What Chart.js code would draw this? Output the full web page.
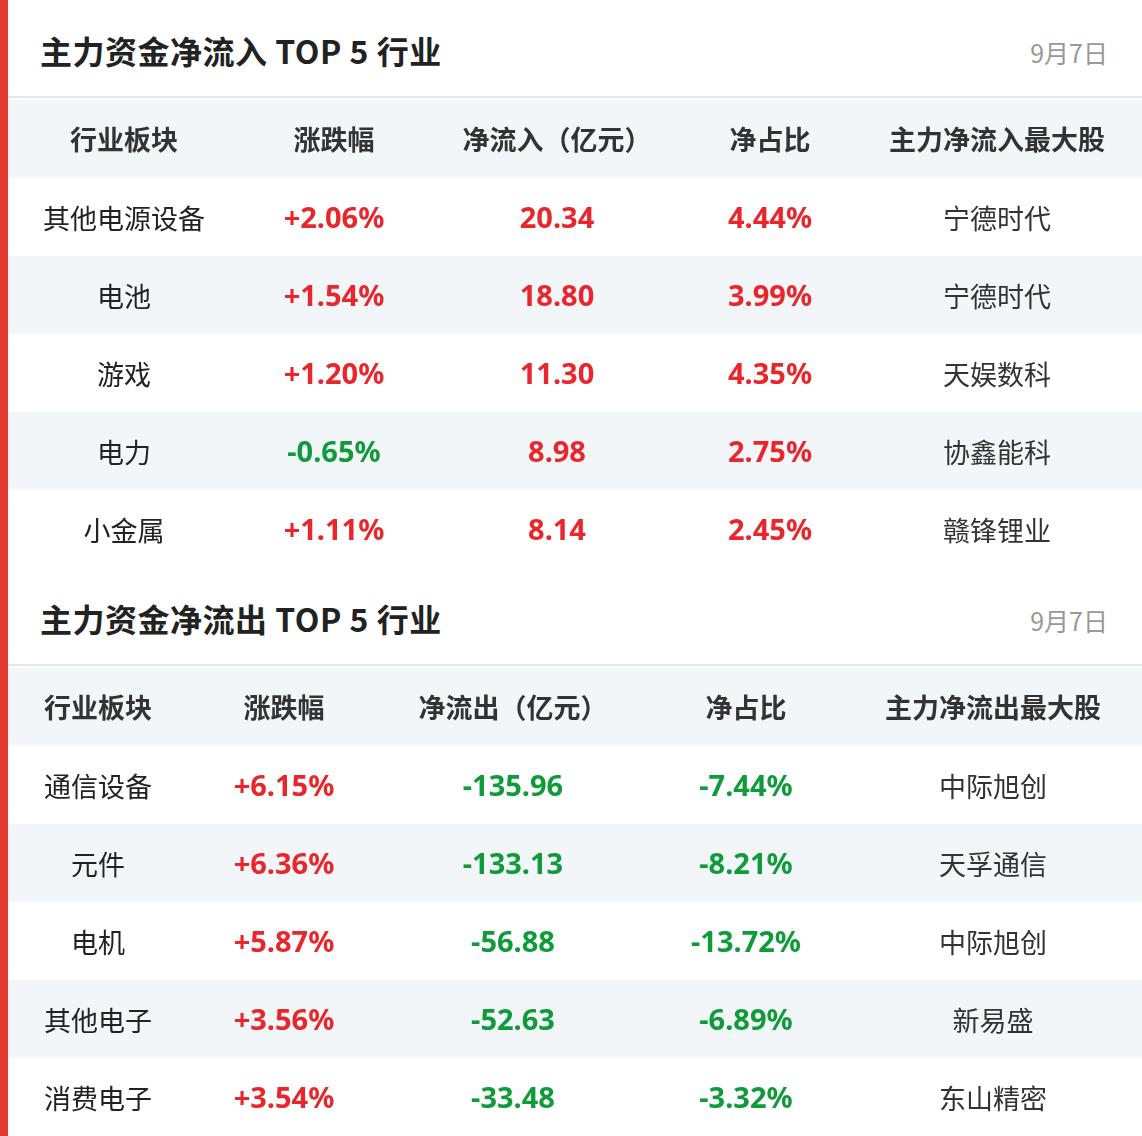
<!DOCTYPE html>
<html><head><meta charset="utf-8">
<script src="https://cdn.jsdelivr.net/npm/chart.js@4/dist/chart.umd.min.js"></script>
<style>
body{margin:0;background:#fff;font-family:"Noto Sans CJK SC",sans-serif;}
#wrap{position:relative;width:1142px;height:1136px;}
#bar{position:absolute;left:0;top:0;width:8px;height:1136px;background:#e53a2f;}
.title{position:absolute;left:8px;width:1134px;height:98px;border-bottom:2px solid #e3e6ea;box-sizing:border-box;}
.title .t{position:absolute;left:32px;top:27px;font-size:32px;font-weight:bold;color:#222;letter-spacing:0.5px;}
.title .d{position:absolute;right:34px;top:34px;font-size:25px;color:#999;}
.box{position:absolute;left:8px;width:1134px;height:468px;}
</style></head><body>
<div id="wrap">
<div id="bar"></div>
<div class="title" style="top:0"><span class="t">主力资金净流入 TOP 5 行业</span><span class="d">9月7日</span></div>
<div class="box" style="top:100px"><canvas id="c1"></canvas></div>
<div class="title" style="top:568px"><span class="t">主力资金净流出 TOP 5 行业</span><span class="d">9月7日</span></div>
<div class="box" style="top:668px"><canvas id="c2"></canvas></div>
</div>
<script>
const inHeaders=["行业板块","涨跌幅","净流入（亿元）","净占比","主力净流入最大股"];
const inIndustries=["其他电源设备","电池","游戏","电力","小金属"];
const inChange=[2.06,1.54,1.20,-0.65,1.11];
const inNet=[20.34,18.80,11.30,8.98,8.14];
const inRatio=[4.44,3.99,4.35,2.75,2.45];
const inStock=["宁德时代","宁德时代","天娱数科","协鑫能科","赣锋锂业"];

const outHeaders=["行业板块","涨跌幅","净流出（亿元）","净占比","主力净流出最大股"];
const outIndustries=["通信设备","元件","电机","其他电子","消费电子"];
const outChange=[6.15,6.36,5.87,3.56,3.54];
const outNet=[-135.96,-133.13,-56.88,-52.63,-33.48];
const outRatio=[-7.44,-8.21,-13.72,-6.89,-3.32];
const outStock=["中际旭创","天孚通信","中际旭创","新易盛","东山精密"];

const RED="#e8262b",GREEN="#0f9b3a",DARK="#222";
function color(v){return v<0?GREEN:RED;}
function make(id,headers,inds,chg,net,ratio,stock,cols){
  const labels=["h","0","1","2","3","4"];
  const W=1134;
  const tablePlugin={id:'tbl',afterDatasetsDraw(ch){
    const ctx=ch.ctx,xs=ch.scales.x,ys=ch.scales.y;
    ctx.save();ctx.textAlign='center';ctx.textBaseline='middle';
    ctx.font='bold 27px "Noto Sans CJK SC"';ctx.fillStyle='#333';
    headers.forEach((h,j)=>ctx.fillText(h,xs.getPixelForValue(cols[j]),ys.getPixelForValue(0)+1));
    inds.forEach((n,i)=>{
      const y=ys.getPixelForValue(i+1);
      const cells=[[n,DARK,false],[(chg[i]>0?"+":"")+chg[i].toFixed(2)+"%",color(chg[i]),true],
        [net[i].toFixed(2),color(net[i]),true],[ratio[i].toFixed(2)+"%",color(ratio[i]),true],[stock[i],'#333',false]];
      cells.forEach((c,j)=>{ctx.font=(c[2]?'bold 29px "Noto Sans"':'27px "Noto Sans CJK SC"');ctx.fillStyle=c[1];
        ctx.fillText(c[0],xs.getPixelForValue(cols[j]),y+(c[2]?3:2));});
    });
    ctx.restore();}};
  new Chart(document.getElementById(id),{type:'bar',
    data:{labels,datasets:[{data:labels.map(()=>[0,W]),
      backgroundColor:labels.map((l,i)=>i%2===0?'#f3f6f9':'#ffffff'),
      barPercentage:1,categoryPercentage:1,borderWidth:0}]},
    options:{indexAxis:'y',responsive:true,maintainAspectRatio:false,animation:false,
      layout:{padding:0},
      plugins:{legend:{display:false},tooltip:{enabled:false}},
      scales:{x:{type:'linear',min:0,max:W,display:false},y:{type:'category',display:false}}},
    plugins:[tablePlugin]});
}
make('c1',inHeaders,inIndustries,inChange,inNet,inRatio,inStock,[116,326,549,762,989]);
make('c2',outHeaders,outIndustries,outChange,outNet,outRatio,outStock,[90,276,505,738,985]);
</script>
</body></html>
